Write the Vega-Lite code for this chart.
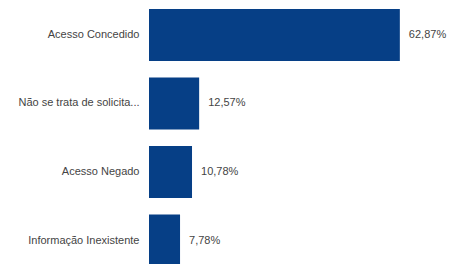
{
  "$schema": "https://vega.github.io/schema/vega-lite/v6.json",
  "autosize": {"type": "none"},
  "padding": {"left": 149, "top": 0, "right": 0, "bottom": 0},
  "width": 302,
  "height": 275.5,
  "background": "white",
  "config": {
    "view": {"stroke": null},
    "locale": {"number": {"decimal": ",", "thousands": ".", "grouping": [3], "currency": ["R$", ""]}}
  },
  "data": {"values": [
    {"categoria": "Acesso Concedido", "pct": 0.6287},
    {"categoria": "Não se trata de solicita...", "pct": 0.1257},
    {"categoria": "Acesso Negado", "pct": 0.1078},
    {"categoria": "Informação Inexistente", "pct": 0.0778}
  ]},
  "encoding": {
    "y": {"field": "categoria", "type": "nominal", "sort": null,
      "scale": {"paddingInner": 0.241, "paddingOuter": 0.131},
      "axis": {"title": null, "ticks": false, "domain": false, "labelPadding": 10,
        "labelFont": "Liberation Sans", "labelFontSize": 11, "labelColor": "#444", "labelLimit": 200}},
    "x": {"field": "pct", "type": "quantitative",
      "scale": {"domain": [0, 0.7569], "nice": false},
      "axis": null}
  },
  "layer": [
    {"mark": {"type": "bar", "color": "#063f86"}},
    {"mark": {"type": "text", "align": "left", "dx": 9, "font": "Liberation Sans", "fontSize": 11, "color": "#444"},
     "encoding": {"text": {"field": "pct", "type": "quantitative", "format": ".2%"}}}
  ]
}
